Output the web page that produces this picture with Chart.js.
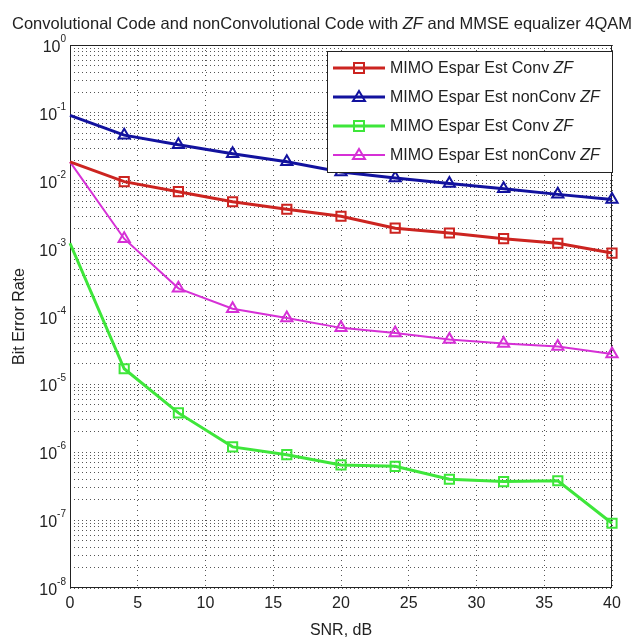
<!DOCTYPE html>
<html>
<head>
<meta charset="utf-8">
<script src="https://cdn.jsdelivr.net/npm/chart.js@4.4.0/dist/chart.umd.min.js"></script>
<style>
    body { margin: 0; background: #fff; }
    #wrap { width: 640px; height: 640px; position: relative; }
</style>
</head>
<body>
<div id="wrap"><canvas id="berChart"></canvas></div>
<script>
// SNR en dB (eje x)
const snr = [0, 4, 8, 12, 16, 20, 24, 28, 32, 36, 40];

// BER
const berConvZF = [0.019, 0.0097, 0.0069, 0.0049, 0.0038, 0.0030, 0.0020, 0.0017, 0.0014, 0.0012, 0.00086];
const berNonConvZF = [0.092, 0.047, 0.034, 0.025, 0.019, 0.0135, 0.011, 0.0091, 0.0076, 0.0063, 0.0053];
const berConvMMSE = [0.0012, 1.7e-5, 3.8e-6, 1.2e-6, 9.2e-7, 6.5e-7, 6.2e-7, 4.0e-7, 3.7e-7, 3.8e-7, 9.0e-8];
const berNonConvMMSE = [0.019, 0.0014, 0.00026, 0.00013, 9.5e-5, 6.8e-5, 5.7e-5, 4.6e-5, 4.0e-5, 3.6e-5, 2.8e-5];

const seriesNames = ['MIMO Espar Est Conv', 'MIMO Espar Est nonConv', 'MIMO Espar Est Conv', 'MIMO Espar Est nonConv'];
const xTicks = [0, 5, 10, 15, 20, 25, 30, 35, 40];
const yExponents = [0, -1, -2, -3, -4, -5, -6, -7, -8];

const FONT = '"Liberation Sans", Arial, sans-serif';

function toPoints(values) {
    return snr.map((x, i) => ({ x: x, y: values[i] }));
}

function makeDataset(label, values, color, width, marker) {
    return {
        label: label,
        data: toPoints(values),
        borderColor: color,
        borderWidth: width,
        pointStyle: marker,
        // en x = 0 no se ve marcador en la figura original
        pointRadius: c => (c.raw && c.raw.x === 0 ? 0 : 6.5),
        pointBorderWidth: 2,
        pointBorderColor: color,
        pointBackgroundColor: 'rgba(0,0,0,0)',
        tension: 0,
        clip: false
    };
}

// Dibuja un marcador igual que en la grafica
function drawMarker(ctx, style, x, y, color) {
    ctx.save();
    ctx.strokeStyle = color;
    ctx.lineWidth = 2;
    ctx.beginPath();
    if (style === 'rect') {
        ctx.rect(x - 5, y - 5, 10, 10);
    } else {
        ctx.moveTo(x, y - 6);
        ctx.lineTo(x + 6, y + 4);
        ctx.lineTo(x - 6, y + 4);
        ctx.closePath();
    }
    ctx.stroke();
    ctx.restore();
}

// Texto con "ZF" en cursiva
function drawMixedText(ctx, parts, x, y, size) {
    let cx = x;
    parts.forEach(p => {
        ctx.font = (p.italic ? 'italic ' : '') + size + 'px ' + FONT;
        ctx.fillText(p.text, cx, y);
        cx += ctx.measureText(p.text).width;
    });
}

const framePlugin = {
    id: 'frame',
    beforeDatasetsDraw(chart) {
        const a = chart.chartArea;
        const ctx = chart.ctx;
        ctx.save();
        ctx.strokeStyle = '#222';
        ctx.lineWidth = 1;
        ctx.strokeRect(a.left + 0.5, a.top + 0.5, a.right - a.left - 1, a.bottom - a.top - 1);
        ctx.restore();
    },
    afterDraw(chart) {
        const ctx = chart.ctx;
        const yScale = chart.scales.y;

        // Etiquetas del eje y: 10 con exponente
        ctx.save();
        ctx.fillStyle = '#222';
        ctx.textBaseline = 'alphabetic';
        yExponents.forEach(e => {
            const py = yScale.getPixelForValue(Math.pow(10, e));
            ctx.font = '16px ' + FONT;
            const baseW = ctx.measureText('10').width;
            ctx.font = '10px ' + FONT;
            const expW = ctx.measureText(String(e)).width;
            const right = 66;
            ctx.font = '16px ' + FONT;
            ctx.fillText('10', right - expW - baseW, py + 7);
            ctx.font = '10px ' + FONT;
            ctx.fillText(String(e), right - expW, py - 3);
        });
        ctx.restore();

        // Titulo
        ctx.save();
        ctx.fillStyle = '#222';
        ctx.textBaseline = 'alphabetic';
        const titleParts = [
            { text: 'Convolutional Code and nonConvolutional Code with ', italic: false },
            { text: 'ZF', italic: true },
            { text: ' and MMSE equalizer 4QAM', italic: false }
        ];
        drawMixedText(ctx, titleParts, 12, 29, 16.5);
        ctx.restore();

        // Leyenda
        const lx = 327, ly = 51, lw = 285, lh = 121;
        ctx.save();
        ctx.fillStyle = '#fff';
        ctx.fillRect(lx, ly, lw, lh);
        ctx.strokeStyle = '#222';
        ctx.lineWidth = 1;
        ctx.strokeRect(lx + 0.5, ly + 0.5, lw, lh);
        chart.data.datasets.forEach((ds, i) => {
            const ry = ly + 17 + i * 29;
            ctx.strokeStyle = ds.borderColor;
            ctx.lineWidth = ds.borderWidth;
            ctx.beginPath();
            ctx.moveTo(lx + 6, ry);
            ctx.lineTo(lx + 58, ry);
            ctx.stroke();
            drawMarker(ctx, ds.pointStyle, lx + 32, ry, ds.borderColor);
            ctx.fillStyle = '#222';
            ctx.textBaseline = 'middle';
            drawMixedText(ctx, [
                { text: ds.label + ' ', italic: false },
                { text: 'ZF', italic: true }
            ], lx + 63, ry + 1, 16);
        });
        ctx.restore();
    }
};

const ctx = document.getElementById('berChart').getContext('2d');
const berChart = new Chart(ctx, {
    type: 'line',
    data: {
        datasets: [
            makeDataset(seriesNames[0], berConvZF, '#cc2420', 3, 'rect'),
            makeDataset(seriesNames[1], berNonConvZF, '#12129e', 3, 'triangle'),
            makeDataset(seriesNames[2], berConvMMSE, '#3ee63a', 3, 'rect'),
            makeDataset(seriesNames[3], berNonConvMMSE, '#d630d6', 2, 'triangle')
        ]
    },
    plugins: [framePlugin],
    options: {
        responsive: true,
        maintainAspectRatio: false,
        animation: false,
        layout: { padding: { top: 45, right: 28, left: 0, bottom: 0 } },
        plugins: {
            legend: { display: false },
            title: { display: false },
            tooltip: { enabled: false }
        },
        scales: {
            x: {
                type: 'linear',
                min: 0,
                max: 40,
                afterBuildTicks: scale => { scale.ticks = xTicks.map(v => ({ value: v })); },
                afterFit: scale => { scale.height = 52; },
                ticks: {
                    autoSkip: false,
                    maxRotation: 0,
                    padding: 6,
                    color: '#222',
                    font: { family: FONT, size: 16 }
                },
                grid: {
                    drawTicks: false,
                    color: '#555',
                    lineWidth: 1
                },
                border: { display: false, dash: [1, 4] },
                title: {
                    display: true,
                    text: 'SNR, dB',
                    color: '#222',
                    font: { family: FONT, size: 16 },
                    padding: { top: 0, bottom: 0 }
                }
            },
            y: {
                type: 'logarithmic',
                min: 1e-8,
                max: 1,
                afterBuildTicks: scale => {
                    const t = [];
                    for (let e = -8; e < 0; e++) {
                        for (let k = 1; k <= 9; k++) t.push({ value: k * Math.pow(10, e) });
                    }
                    t.push({ value: 1 });
                    scale.ticks = t;
                },
                afterFit: scale => { scale.width = 70; },
                ticks: {
                    autoSkip: false,
                    callback: () => ''
                },
                grid: {
                    drawTicks: false,
                    color: '#555',
                    lineWidth: 1
                },
                border: { display: false, dash: [1, 3] },
                title: {
                    display: true,
                    text: 'Bit Error Rate',
                    color: '#222',
                    font: { family: FONT, size: 16 },
                    padding: { top: 10, bottom: 0 }
                }
            }
        }
    }
});
</script>
</body>
</html>
